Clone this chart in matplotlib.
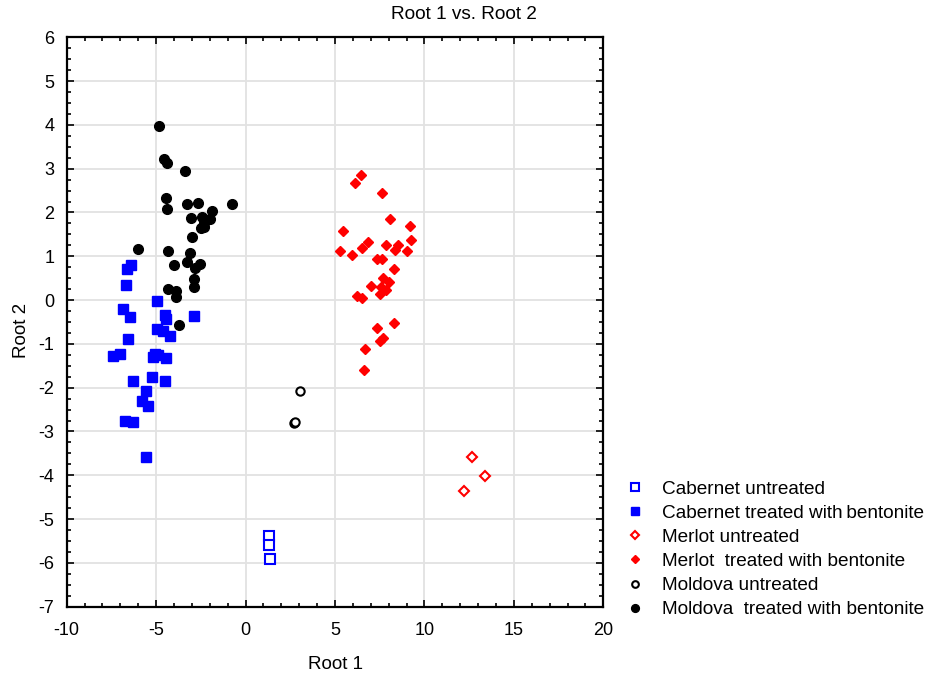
import numpy as np
import matplotlib
matplotlib.use('Agg')
import matplotlib.pyplot as plt
from matplotlib.ticker import MultipleLocator

plt.rcParams['font.family'] = ['Liberation Sans', 'DejaVu Sans']
plt.rcParams['axes.unicode_minus'] = False

# Cabernet
cab_untr_x = [1.33, 1.33, 1.38]
cab_untr_y = [-5.38, -5.59, -5.92]
cab_trt_x = [-6.38, -6.64, -6.70, -4.96, -6.88, -6.47, -4.53, -4.46, -2.88, -4.93,
             -4.64, -4.22, -6.55, -7.39, -7.03, -5.06, -5.15, -4.89, -4.46, -5.21,
             -4.53, -6.29, -5.54, -5.80, -5.45, -6.74, -6.29, -5.54]
cab_trt_y = [0.81, 0.71, 0.35, -0.02, -0.20, -0.38, -0.34, -0.43, -0.36, -0.67,
             -0.70, -0.82, -0.88, -1.27, -1.23, -1.22, -1.29, -1.25, -1.33, -1.75,
             -1.84, -1.84, -2.08, -2.31, -2.41, -2.76, -2.79, -3.58]

# Merlot
mer_untr_x = [12.64, 13.38, 12.21]
mer_untr_y = [-3.58, -4.02, -4.36]
mer_trt_x = [6.45, 6.10, 7.61, 8.09, 9.18, 5.44, 9.27, 6.84, 6.52, 7.87,
             8.54, 8.35, 9.03, 5.28, 5.95, 7.35, 7.61, 8.30, 7.70, 8.00,
             7.03, 7.57, 7.85, 7.53, 6.21, 6.52, 8.30, 7.35, 7.68, 7.53,
             6.69, 6.60]
mer_trt_y = [2.85, 2.67, 2.44, 1.85, 1.68, 1.58, 1.38, 1.32, 1.18, 1.25,
             1.26, 1.15, 1.11, 1.12, 1.02, 0.94, 0.94, 0.72, 0.50, 0.42,
             0.32, 0.29, 0.22, 0.14, 0.10, 0.04, -0.53, -0.64, -0.87, -0.93,
             -1.12, -1.60]

# Moldova
mol_untr_x = [3.04, 2.72, 2.75]
mol_untr_y = [-2.08, -2.81, -2.78]
mol_trt_x = [-4.83, -4.56, -4.37, -3.40, -4.46, -4.37, -3.25, -2.65, -0.78, -1.89,
             -3.06, -2.41, -1.98, -2.32, -2.50, -2.35, -2.97, -6.04, -4.31, -3.13,
             -4.00, -3.30, -2.54, -2.82, -2.91, -2.91, -4.31, -3.90, -3.88, -3.73]
mol_trt_y = [3.97, 3.22, 3.12, 2.94, 2.33, 2.09, 2.19, 2.22, 2.19, 2.03,
             1.88, 1.90, 1.85, 1.76, 1.65, 1.67, 1.44, 1.17, 1.13, 1.07,
             0.79, 0.86, 0.83, 0.73, 0.49, 0.29, 0.25, 0.21, 0.07, -0.57]

fig = plt.figure(figsize=(9.42, 6.79), dpi=100)
ax = fig.add_axes([0.0708, 0.1065, 0.5697, 0.8386])

ax.plot(cab_untr_x, cab_untr_y, ls='none', marker='s', ms=6.5, mfc='white', mec='blue', mew=1.5,
        label='Cabernet untreated')
ax.plot(cab_trt_x, cab_trt_y, ls='none', marker='s', ms=7, color='blue',
        label='Cabernet treated with\u2009bentonite')
ax.plot(mer_untr_x, mer_untr_y, ls='none', marker='D', ms=4.6, mfc='white', mec='red', mew=1.5,
        label='Merlot untreated')
ax.plot(mer_trt_x, mer_trt_y, ls='none', marker='D', ms=5, color='red',
        label='Merlot  treated with bentonite')
ax.plot(mol_untr_x, mol_untr_y, ls='none', marker='o', ms=6, mfc='white', mec='black', mew=1.5,
        label='Moldova untreated')
ax.plot(mol_trt_x, mol_trt_y, ls='none', marker='o', ms=7, color='black',
        label='Moldova  treated with bentonite')

ax.set_xlim(-10, 20)
ax.set_ylim(-7, 6)
ax.xaxis.set_major_locator(MultipleLocator(5))
ax.xaxis.set_minor_locator(MultipleLocator(1))
ax.yaxis.set_major_locator(MultipleLocator(1))
ax.yaxis.set_minor_locator(MultipleLocator(0.25))
ax.tick_params(which='both', direction='in', top=True, right=True, labelsize=13, width=1.2)
ax.tick_params(which='major', length=5)
ax.tick_params(which='minor', length=3)
ax.tick_params(axis='x', pad=11)
ax.tick_params(axis='y', pad=9)
ax.grid(True, which='major', color='#e2e2e2', lw=1.3)
ax.set_axisbelow(True)
for s in ax.spines.values():
    s.set_linewidth(1.6)

ax.set_xlabel('Root 1', fontsize=13.5)
ax.set_ylabel('Root 2', fontsize=13.5)
ax.xaxis.set_label_coords(0.5, -0.086)
ax.yaxis.set_label_coords(-0.069, 0.486)
fig.text(0.492, 0.978, 'Root 1 vs. Root 2', ha='center', va='center', fontsize=13.7)

fig.legend(loc='upper left', bbox_to_anchor=(0.646, 0.318), frameon=False, fontsize=13.7,
           markerscale=0.8, handlelength=1.0, handletextpad=0.9, labelspacing=0.36)

fig.savefig('out.png', dpi=100)
